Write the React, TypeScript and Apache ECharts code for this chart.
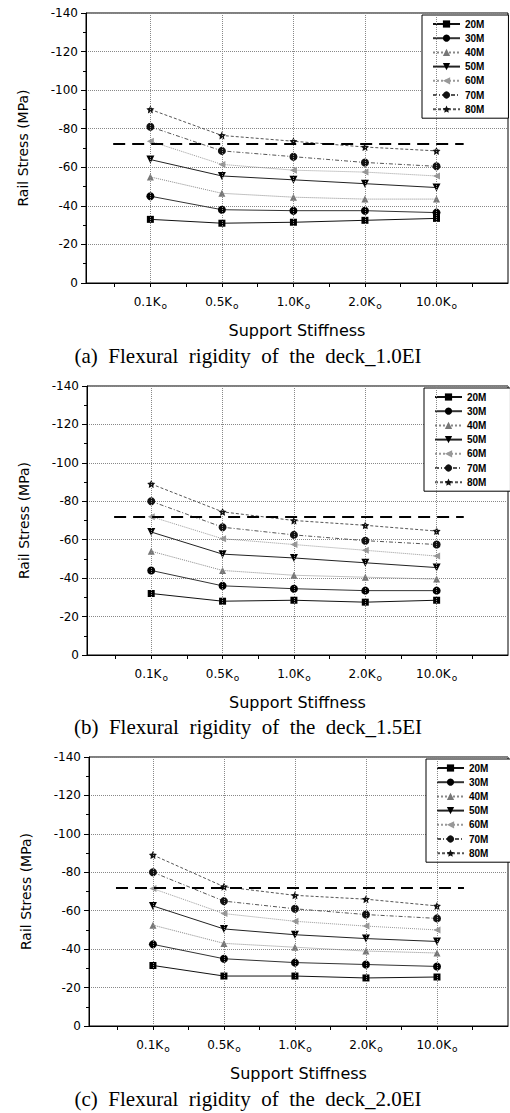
import React, { useEffect, useRef } from "react";
import * as echarts from "echarts";

// ---------- data ----------
const stiffnessLabels = ["0.1", "0.5", "1.0", "2.0", "10.0"];
const stiffnessPos = [1, 2, 3, 4, 5];
const tickPos = [0.5, 1, 1.5, 2, 2.5, 3, 3.5, 4, 4.5, 5, 5.5];
const spanNames = ["20M", "30M", "40M", "50M", "60M", "70M", "80M"];
const limitStress = -72;
const limitRange = [0.48, 5.38];

// (a) 1.0EI
const stress10EI: number[][] = [
  [-33, -31, -31.5, -32.5, -33.5],
  [-45, -38, -37.5, -37.5, -36.5],
  [-55, -46.5, -44.5, -43.5, -43.5],
  [-64, -55.5, -53.5, -51.5, -49.5],
  [-73.5, -61.5, -58.5, -57.5, -55.5],
  [-81, -68.5, -65.5, -62.5, -60.5],
  [-90, -76.5, -73.5, -70.5, -68.5],
];
// (b) 1.5EI
const stress15EI: number[][] = [
  [-32, -28, -28.5, -27.5, -28.5],
  [-44, -36, -34.5, -33.5, -33.5],
  [-54, -44, -41.5, -40.5, -39.5],
  [-64, -52.5, -50.5, -48, -45.5],
  [-72, -60.5, -57.5, -54.5, -51.5],
  [-80, -66.5, -62.5, -59.5, -57.5],
  [-89, -74.5, -70, -67.5, -64.5],
];
// (c) 2.0EI
const stress20EI: number[][] = [
  [-31.5, -26, -26, -25, -25.5],
  [-42.5, -35, -33, -32, -31],
  [-52.5, -43, -41, -39, -38],
  [-62.5, -50.5, -47.5, -45.5, -44],
  [-71.5, -58.5, -54.5, -52, -50],
  [-80, -65, -61, -58, -56],
  [-89, -72.5, -68, -66, -62.5],
];
const captions = [
  "(a)  Flexural  rigidity  of  the  deck_1.0EI",
  "(b)  Flexural  rigidity  of  the  deck_1.5EI",
  "(c)  Flexural  rigidity  of  the  deck_2.0EI",
];

// ---------- styles ----------
const STAR =
  "path://M0,-10 L2.94,-4.05 9.51,-3.09 4.76,1.55 5.88,8.09 0,5 -5.88,8.09 -4.76,1.55 -9.51,-3.09 -2.94,-4.05 Z";
const seriesStyle = [
  { symbol: "rect", rotate: 0, size: 7, color: "#000", line: "#111", type: "solid" },
  { symbol: "circle", rotate: 0, size: 8, color: "#000", line: "#333", type: "solid" },
  { symbol: "triangle", rotate: 0, size: 7, color: "#777", line: "#888", type: "dotted" },
  { symbol: "triangle", rotate: 180, size: 8, color: "#000", line: "#222", type: "solid" },
  { symbol: "triangle", rotate: 90, size: 7, color: "#999", line: "#999", type: "dotted" },
  { symbol: "circle", rotate: 0, size: 8, color: "#111", line: "#555", type: [4, 2, 1, 2] },
  { symbol: STAR, rotate: 0, size: 8, color: "#111", line: "#555", type: [3, 2] },
];

const panels = [
  { data: stress10EI, left: 86, top: 13, width: 422, height: 270, legendLeft: 422, legendTop: 15, capY: 356 },
  { data: stress15EI, left: 87, top: 386, width: 421, height: 269, legendLeft: 424, legendTop: 388, capY: 727 },
  { data: stress20EI, left: 89, top: 757, width: 419, height: 269, legendLeft: 426, legendTop: 759, capY: 1099 },
];

export default function App() {
  const ref = useRef<HTMLDivElement>(null);
  useEffect(() => {
    if (!ref.current) return;
    const chart = echarts.init(ref.current, null, { renderer: "svg" });
    const grid: any[] = [];
    const xAxis: any[] = [];
    const yAxis: any[] = [];
    const legend: any[] = [];
    const series: any[] = [];
    const graphic: any[] = [];
    panels.forEach((p, gi) => {
      grid.push({
        left: p.left,
        top: p.top,
        width: p.width,
        height: p.height,
        show: true,
        borderColor: "#000",
        borderWidth: 1,
        backgroundColor: "transparent",
      });
      xAxis.push({
        type: "value",
        gridIndex: gi,
        min: 0.1,
        max: 6,
        name: "Support Stiffness",
        nameLocation: "middle",
        nameGap: 39,
        nameTextStyle: { fontFamily: "DejaVu Sans", fontSize: 16, color: "#000" },
        axisLine: { onZero: false, lineStyle: { color: "#000", width: 1 } },
        axisTick: { show: true, customValues: tickPos, length: 4, inside: false, lineStyle: { color: "#000" } },
        axisLabel: {
          customValues: stiffnessPos,
          margin: 13,
          formatter: (v: number) => {
            const i = stiffnessPos.indexOf(Math.round(v));
            return i >= 0 ? `{a|${stiffnessLabels[i]}K}{b|o}` : "";
          },
          rich: {
            a: { fontFamily: "DejaVu Sans", fontSize: 12, color: "#000", lineHeight: 14, verticalAlign: "top" },
            b: { fontFamily: "DejaVu Sans", fontSize: 9, color: "#000", lineHeight: 14, verticalAlign: "bottom", padding: [5, 0, 0, 1] },
          },
        },
        splitLine: { show: false },
      });
      yAxis.push({
        type: "value",
        gridIndex: gi,
        min: -140,
        max: 0,
        interval: 20,
        inverse: true,
        name: "Rail Stress (MPa)",
        nameLocation: "middle",
        nameGap: 56,
        nameRotate: 90,
        nameTextStyle: { fontFamily: "DejaVu Sans", fontSize: 14, color: "#000" },
        axisLine: { show: true, lineStyle: { color: "#000", width: 1 } },
        axisTick: { show: true, length: 5, inside: false, lineStyle: { color: "#000" } },
        minorTick: { show: true, splitNumber: 2, length: 3, lineStyle: { color: "#000" } },
        axisLabel: { fontFamily: "DejaVu Sans", fontSize: 12, color: "#000", margin: 8 },
        splitLine: { show: true, lineStyle: { type: "dotted", color: "#888", width: 1 } },
      });
      legend.push({
        data: spanNames,
        orient: "vertical",
        left: p.legendLeft,
        top: p.legendTop,
        padding: [4, 24, 4, 10],
        itemWidth: 27,
        itemHeight: 9,
        itemGap: 4.2,
        borderColor: "#000",
        borderWidth: 1,
        backgroundColor: "#fff",
        textStyle: { fontFamily: "Liberation Sans", fontWeight: "bold", fontSize: 10, color: "#000" },
        selectedMode: false,
      });
      // helper series for vertical grid lines and limit line
      series.push({
        type: "line",
        xAxisIndex: gi,
        yAxisIndex: gi,
        data: [],
        silent: true,
        markLine: {
          silent: true,
          symbol: ["none", "none"],
          label: { show: false },
          data: [
            ...stiffnessPos.map((x) => ({
              xAxis: x,
              lineStyle: { type: "dotted", color: "#888", width: 1 },
            })),
            [
              { coord: [limitRange[0], limitStress], lineStyle: { type: [12, 7], color: "#000", width: 2 } },
              { coord: [limitRange[1], limitStress] },
            ],
          ],
        },
      });
      p.data.forEach((vals, si) => {
        const st = seriesStyle[si];
        series.push({
          type: "line",
          name: spanNames[si],
          xAxisIndex: gi,
          yAxisIndex: gi,
          data: vals.map((v, i) => [stiffnessPos[i], v]),
          symbol: st.symbol,
          symbolRotate: st.rotate,
          symbolSize: st.size,
          itemStyle: { color: st.color },
          lineStyle: { color: st.line, width: 1, type: st.type },
          z: 3,
        });
      });
      graphic.push({
        type: "text",
        x: 248,
        y: p.capY,
        style: {
          text: captions[gi],
          font: "21px 'Liberation Serif'",
          fill: "#000",
          align: "center",
          verticalAlign: "middle",
        },
      });
    });
    chart.setOption({
      animation: false,
      backgroundColor: "#fff",
      grid,
      xAxis,
      yAxis,
      legend,
      series,
      graphic,
    });
    return () => chart.dispose();
  }, []);
  return (
    <div
      ref={ref}
      style={{ position: "absolute", left: 0, top: 0, width: 510, height: 1113 }}
    />
  );
}
